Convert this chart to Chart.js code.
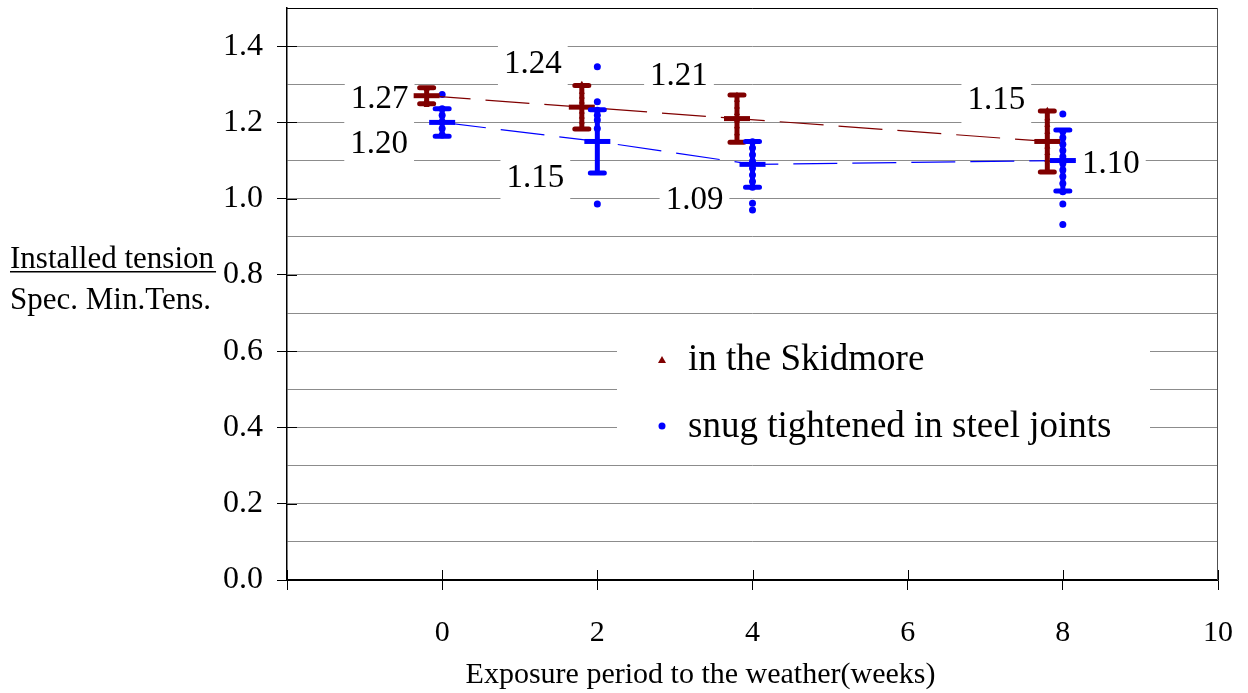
<!DOCTYPE html>
<html>
<head>
<meta charset="utf-8">
<script src="https://cdn.jsdelivr.net/npm/chart.js@4/dist/chart.umd.min.js"></script>
<style>
  html, body { margin: 0; padding: 0; background: #fff; }
  #wrap { width: 1248px; height: 693px; }
</style>
</head>
<body>
<div id="wrap"><canvas id="tensionChart" width="1248" height="693"></canvas></div>
<script>
// --- data ---
const weeks = [0, 2, 4, 8];

const skidmoreMean = [1.27, 1.24, 1.21, 1.15];
const skidmoreErr  = [0.021, 0.057, 0.062, 0.08];
const snugMean = [1.20, 1.15, 1.09, 1.10];
const snugErr  = [0.036, 0.083, 0.060, 0.080];

// single readings per exposure period
const skidmoreW0 = [1.287, 1.272, 1.259, 1.245];
const skidmoreW2 = [1.300, 1.280, 1.267, 1.254, 1.241, 1.228, 1.215, 1.202, 1.184];
const skidmoreW4 = [1.271, 1.259, 1.241, 1.224, 1.205, 1.189, 1.171, 1.149];
const skidmoreW8 = [1.232, 1.210, 1.193, 1.175, 1.136, 1.119, 1.101, 1.075];
const snugW0 = [1.273, 1.236, 1.219, 1.202, 1.184, 1.167];
const snugW2 = [1.346, 1.254, 1.232, 1.219, 1.206, 1.184, 0.986];
const snugW4 = [1.149, 1.133, 1.115, 1.098, 1.080, 1.062, 1.045, 1.030, 0.988, 0.970];
const snugW8 = [1.222, 1.176, 1.160, 1.143, 1.126, 1.110, 1.092, 1.075, 1.058, 1.040, 1.018, 0.986, 0.932];

const seriesNames = ['in the Skidmore', 'snug tightened in steel joints'];
const xTitle = 'Exposure period to the weather(weeks)';
const yTitleTop = 'Installed tension';
const yTitleBottom = 'Spec. Min.Tens.';

// --- styles ---
const RED = '#800000';
const BLUE = '#0000ff';
const SERIF = "'Liberation Serif', 'Times New Roman', serif";
const RED_SHIFT = -0.2; // skidmore bars drawn a little left of the week
// label offsets from the mean point (px), like hand-placed labels
const skidLabelOffset = [[-47, 1], [-49, -45], [-58, -45], [-51, -43]];
const snugLabelOffset = [[-63, 20], [-62, 35], [-58, 34], [48, 1]];

function toPoints(lists, shift) {
    const out = [];
    lists.forEach((vals, i) => vals.forEach(v => out.push({ x: weeks[i] + shift, y: v })));
    return out;
}
function toMeans(means, shift) {
    return weeks.map((w, i) => ({ x: w + shift, y: means[i] }));
}

const isLabelled = v => Math.round(v * 10) % 2 === 0 && v < 1.45;

// error bars, labels, legend, axis titles
const decorPlugin = {
    id: 'decor',
    beforeDatasetsDraw(chart) {
        const { ctx, chartArea: a, scales: { x, y } } = chart;
        ctx.save();
        // tick marks poking into the plot
        ctx.strokeStyle = '#000';
        ctx.lineWidth = 1;
        ctx.beginPath();
        for (let v = 0; v <= 1.4001; v += 0.2) {
            const py = Math.round(y.getPixelForValue(v)) + 0.5;
            ctx.moveTo(a.left, py); ctx.lineTo(a.left + 10, py);
        }
        for (let v = -2; v <= 10; v += 2) {
            const px = Math.round(x.getPixelForValue(v)) + 0.5;
            ctx.moveTo(px, a.bottom - 10); ctx.lineTo(px, a.bottom);
        }
        ctx.stroke();
        // frame
        ctx.beginPath();
        ctx.moveTo(a.left, a.top + 0.5); ctx.lineTo(a.right, a.top + 0.5);
        ctx.stroke();
        ctx.strokeStyle = '#505050';
        ctx.beginPath();
        ctx.moveTo(a.right - 0.5, a.top); ctx.lineTo(a.right - 0.5, a.bottom);
        ctx.stroke();

        // value labels with white boxes
        ctx.font = '33px ' + SERIF;
        ctx.textAlign = 'center';
        ctx.textBaseline = 'alphabetic';
        const drawLabels = (means, shift, offs) => {
            means.forEach((m, i) => {
                const px = x.getPixelForValue(weeks[i] + shift) + offs[i][0];
                const py = y.getPixelForValue(m) + offs[i][1];
                const txt = m.toFixed(2);
                const w = ctx.measureText(txt).width + 12;
                ctx.fillStyle = '#fff';
                ctx.fillRect(px - w / 2, py - 25, w, 50);
                ctx.fillStyle = '#000';
                ctx.fillText(txt, px, py + 11);
            });
        };
        drawLabels(skidmoreMean, RED_SHIFT, skidLabelOffset);
        drawLabels(snugMean, 0, snugLabelOffset);

        // legend
        const lx = a.left + 330, ly = a.top + 319;
        ctx.fillStyle = '#fff';
        ctx.fillRect(lx, ly, 533, 128);
        ctx.font = '37px ' + SERIF;
        ctx.textAlign = 'left';
        ctx.fillStyle = '#000';
        ctx.fillText(seriesNames[0], lx + 71, ly + 43);
        ctx.fillText(seriesNames[1], lx + 71, ly + 110);
        ctx.fillStyle = RED;
        ctx.beginPath();
        ctx.moveTo(lx + 45, ly + 29); ctx.lineTo(lx + 49, ly + 36); ctx.lineTo(lx + 41, ly + 36);
        ctx.closePath(); ctx.fill();
        ctx.fillStyle = BLUE;
        ctx.beginPath(); ctx.arc(lx + 45, ly + 99, 3.5, 0, Math.PI * 2); ctx.fill();
        ctx.restore();
    },
    afterDatasetsDraw(chart) {
        const { ctx, scales: { x, y } } = chart;
        ctx.save();
        ctx.lineWidth = 5;
        ctx.lineCap = 'round';
        const bars = (means, errs, shift, color) => {
            ctx.strokeStyle = color;
            means.forEach((m, i) => {
                const px = x.getPixelForValue(weeks[i] + shift);
                const top = y.getPixelForValue(m + errs[i]);
                const bot = y.getPixelForValue(m - errs[i]);
                ctx.beginPath();
                ctx.moveTo(px, top); ctx.lineTo(px, bot);
                ctx.moveTo(px - 7, top); ctx.lineTo(px + 7, top);
                ctx.moveTo(px - 7, bot); ctx.lineTo(px + 7, bot);
                ctx.stroke();
            });
        };
        bars(skidmoreMean, skidmoreErr, RED_SHIFT, RED);
        bars(snugMean, snugErr, 0, BLUE);
        ctx.restore();
    },
    afterDraw(chart) {
        const { ctx, scales: { x } } = chart;
        ctx.save();
        ctx.fillStyle = '#000';
        ctx.font = '30px ' + SERIF;
        ctx.textAlign = 'center';
        ctx.fillText(xTitle, x.getPixelForValue(3.33), 683);
        ctx.font = '31px ' + SERIF;
        ctx.textAlign = 'left';
        ctx.fillText(yTitleTop, 10, 268);
        const w = ctx.measureText(yTitleTop).width;
        ctx.fillRect(10, 271, w + 2, 1.5);
        ctx.fillText(yTitleBottom, 10, 309);
        ctx.restore();
    }
};

const chart = new Chart(document.getElementById('tensionChart'), {
    type: 'scatter',
    data: {
        datasets: [
            {
                label: seriesNames[0] + ' mean',
                data: toMeans(skidmoreMean, RED_SHIFT),
                showLine: true,
                borderColor: RED,
                borderWidth: 1.2,
                borderDash: [44, 15],
                pointStyle: 'line',
                pointRadius: 13,
                pointBorderWidth: 5,
                pointBorderColor: RED
            },
            {
                label: seriesNames[1] + ' mean',
                data: toMeans(snugMean, 0),
                showLine: true,
                borderColor: BLUE,
                borderWidth: 1.2,
                borderDash: [44, 15],
                pointStyle: 'line',
                pointRadius: 13,
                pointBorderWidth: 5,
                pointBorderColor: BLUE
            },
            {
                label: seriesNames[0],
                data: toPoints([skidmoreW0, skidmoreW2, skidmoreW4, skidmoreW8], RED_SHIFT),
                pointStyle: 'triangle',
                pointRadius: 3.5,
                backgroundColor: RED,
                borderColor: RED,
                borderWidth: 0
            },
            {
                label: seriesNames[1],
                data: toPoints([snugW0, snugW2, snugW4, snugW8], 0),
                pointStyle: 'circle',
                pointRadius: 3.5,
                backgroundColor: BLUE,
                borderColor: BLUE,
                borderWidth: 0
            }
        ]
    },
    options: {
        responsive: false,
        animation: false,
        layout: { autoPadding: false, padding: { top: 8, right: 30, left: 0, bottom: 0 } },
        plugins: {
            legend: { display: false },
            tooltip: { enabled: false }
        },
        scales: {
            x: {
                type: 'linear',
                min: -2,
                max: 10,
                ticks: {
                    stepSize: 2,
                    autoSkip: false,
                    color: '#000',
                    font: { family: SERIF, size: 30 },
                    padding: 25,
                    maxRotation: 0,
                    callback: v => (v === -2 ? '' : String(v))
                },
                grid: { drawOnChartArea: false, drawTicks: true, tickLength: 10, tickColor: '#000' },
                border: { color: '#000', width: 1.5 },
                afterFit: s => { s.height = 113; s.paddingLeft = 0; s.paddingRight = 0; }
            },
            y: {
                min: 0,
                max: 1.5,
                ticks: {
                    stepSize: 0.1,
                    autoSkip: false,
                    color: '#000',
                    font: { family: SERIF, size: 32 },
                    padding: 14,
                    callback: v => (isLabelled(v) ? v.toFixed(1) : '')
                },
                grid: {
                    color: c => (c.tick && c.tick.value === 0 ? '#000' : '#8c8c8c'),
                    tickLength: 10,
                    tickColor: c => (c.tick && isLabelled(c.tick.value) ? '#000' : 'rgba(0,0,0,0)')
                },
                border: { color: '#000', width: 1.5 },
                afterFit: s => { s.width = 287; s.paddingTop = 0; s.paddingBottom = 0; }
            }
        }
    },
    plugins: [decorPlugin]
});
</script>
</body>
</html>
